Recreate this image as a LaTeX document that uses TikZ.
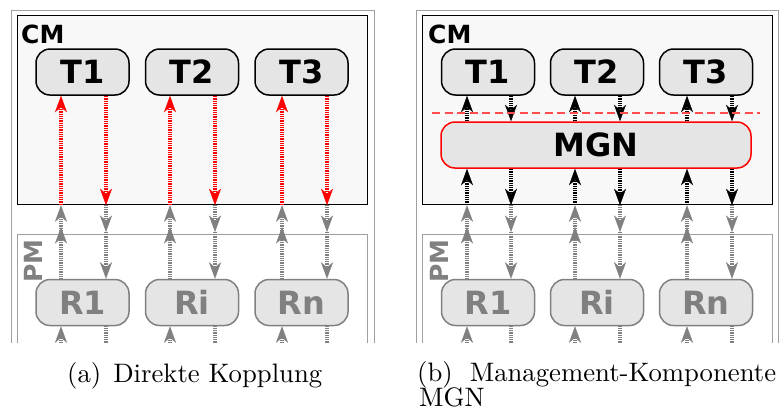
\documentclass[tikz,border=0pt]{standalone}
\usepackage{fontspec}
\newfontfamily\dv{DejaVu Sans}
\newfontfamily\lmten{lmroman10-regular}[Extension=.otf]
\usetikzlibrary{arrows.meta,calc}
\definecolor{boxgray}{HTML}{E5E5E5}
\definecolor{cmfill}{HTML}{F8F8F8}
\definecolor{pmgray}{HTML}{808080}
\definecolor{framegray}{HTML}{A0A0A0}
\tikzset{
 tbox/.style={rounded corners=14pt, draw=black, line width=1.5pt, fill=boxgray, minimum width=93pt, minimum height=46pt, inner sep=0pt, font=\dv\bfseries\fontsize{32}{32}\selectfont},
 rbox/.style={tbox, draw=pmgray, text=pmgray},
 mbox/.style={tbox, draw=red, minimum width=310pt},
 area/.style={draw=black, fill=cmfill, line width=1.2pt, minimum width=350pt, minimum height=189pt, inner sep=0pt, anchor=north west},
 pmarea/.style={draw=framegray, line width=1pt, minimum width=350pt, minimum height=150pt, inner sep=0pt, anchor=north west},
 frame/.style={draw=framegray, line width=1pt},
 lbl/.style={font=\dv\bfseries\fontsize{25}{25}\selectfont, inner sep=0pt},
 stripe/.style={line width=3.4pt, dash pattern=on 1pt off 0.8pt, -{Stealth[length=16.5pt,width=12pt,inset=5pt,line width=0.4pt]}},
 redarr/.style={stripe, draw=red},
 grayarr/.style={stripe, draw=pmgray},
 blackarr/.style={stripe, draw=black},
 capt/.style={font=\lmten\fontsize{26.7}{25}\selectfont, inner sep=0pt},
}
\begin{document}
\begin{tikzpicture}[x=1pt,y=-1pt]
\useasboundingbox (0,0) rectangle (781,416);
\begin{scope}
\clip (0,0) rectangle (781,342);
% frames
\draw[frame] (11.5,10) rectangle (374,380);
\draw[frame] (416,10) rectangle (778,380);
% CM areas
\node[area] (cmA) at (17,15) {};
\node[area] (cmB) at (422,15) {};
\node[lbl, anchor=base west] (cmAl) at (21,43) {CM};
\node[lbl, anchor=base west] (cmBl) at (428,43) {CM};
% PM areas
\node[pmarea] (pmA) at (17,234) {};
\node[pmarea] (pmB) at (422,234) {};
\node[lbl, text=pmgray, rotate=90, anchor=base] (pmAl) at (42,261) {PM};
\node[lbl, text=pmgray, rotate=90, anchor=base] (pmBl) at (448,261) {PM};
% T boxes
\node[tbox] (TA1) at (82.5,72) {T1};
\node[tbox] (TA2) at (192,72) {T2};
\node[tbox] (TA3) at (301.5,72) {T3};
\node[tbox] (TB1) at (488,72) {T1};
\node[tbox] (TB2) at (597,72) {T2};
\node[tbox] (TB3) at (706,72) {T3};
% R boxes
\node[rbox] (RA1) at (82.5,302.5) {R1};
\node[rbox] (RA2) at (192,302.5) {Ri};
\node[rbox] (RA3) at (301.5,302.5) {Rn};
\node[rbox] (RB1) at (488,302.5) {R1};
\node[rbox] (RB2) at (597,302.5) {Ri};
\node[rbox] (RB3) at (706,302.5) {Rn};
% MGN
\node[mbox] (mgn) at (596,145) {MGN};
% columns
\foreach \n/\u/\d in {1/61/106, 2/170/215, 3/282/327} {
  \coordinate (uA\n) at (\u,0);
  \coordinate (dA\n) at (\d,0);
}
\foreach \n/\u/\d in {1/467/511, 2/575/620, 3/687/732} {
  \coordinate (uB\n) at (\u,0);
  \coordinate (dB\n) at (\d,0);
}
% red direct arrows
\foreach \n in {1,2,3} {
  \draw[redarr] (cmA.south -| uA\n) -- (TA\n.south -| uA\n);
  \draw[redarr] (TA\n.south -| dA\n) -- (cmA.south -| dA\n);
}
% black arrows via MGN
\foreach \n in {1,2,3} {
  \draw[blackarr] (mgn.north -| uB\n) -- (TB\n.south -| uB\n);
  \draw[blackarr] (TB\n.south -| dB\n) -- (mgn.north -| dB\n);
  \draw[blackarr] (cmB.south -| uB\n) -- (mgn.south -| uB\n);
  \draw[blackarr] (mgn.south -| dB\n) -- (cmB.south -| dB\n);
}
\coordinate (dl) at (432,113);
\coordinate (dr) at (760,113);
\draw[red!70, line width=1.1pt, dash pattern=on 8pt off 4.5pt] (dl) -- (dr);
% gray arrows
\foreach \p in {A,B} {
  \foreach \n in {1,2,3} {
    \draw[grayarr] (R\p\n.north -| u\p\n) -- ($(pm\p.north -| u\p\n)+(0,-7)$);
    \draw[grayarr] ($(pm\p.north -| u\p\n)+(0,6)$) -- (cm\p.south -| u\p\n);
    \draw[grayarr] (cm\p.south -| d\p\n) -- ($(pm\p.north -| d\p\n)+(0,-2)$);
    \draw[grayarr] ($(pm\p.north -| d\p\n)+(0,-2)$) -- (R\p\n.north -| d\p\n);
    \draw[grayarr] ($(R\p\n.south -| u\p\n)+(0,40)$) -- (R\p\n.south -| u\p\n);
    \draw[grayarr] (R\p\n.south -| d\p\n) -- ($(R\p\n.south -| d\p\n)+(0,40)$);
  }
}
\end{scope}
% captions
\node[capt, anchor=base west] (capA) at (67,382) {(a)\hspace{0.45em}Direkte Kopplung};
\node[capt, anchor=base west] (capB) at (417,381) {(b)\hspace{17pt}Management-Komponente};
\node[capt, anchor=base west] (capB2) at (419,406) {MGN};
\end{tikzpicture}
\end{document}
